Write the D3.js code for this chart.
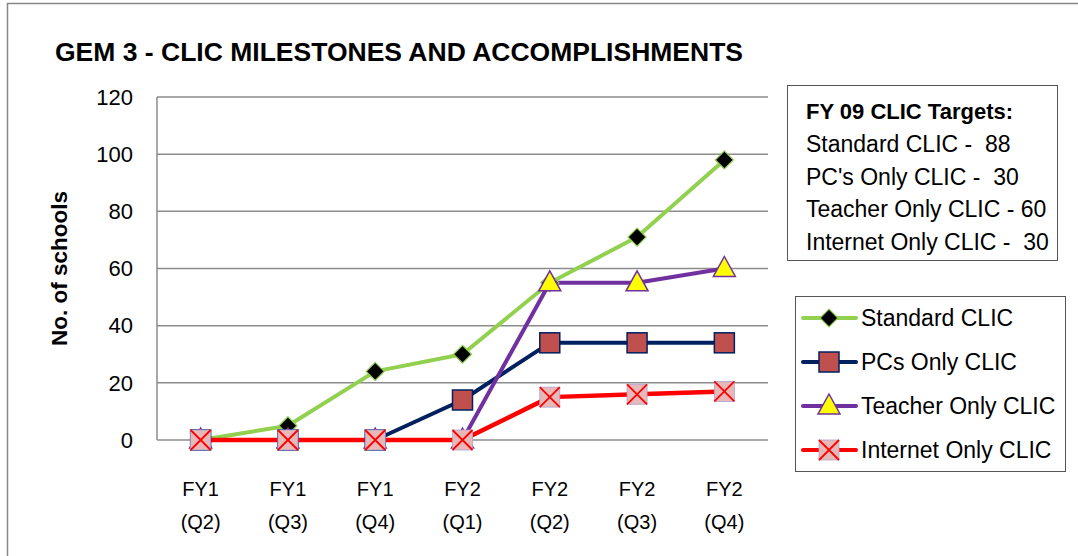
<!DOCTYPE html>
<html>
<head>
<meta charset="utf-8">
<script src="https://cdn.jsdelivr.net/npm/d3@7"></script>
<style>
  body { margin: 0; background: #fff; }
  text { font-family: "Liberation Sans", "DejaVu Sans", sans-serif; fill: #000; white-space: pre; }
</style>
</head>
<body>
<div id="chart"></div>
<script>
// Data
const quarters = ["FY1|(Q2)", "FY1|(Q3)", "FY1|(Q4)", "FY2|(Q1)", "FY2|(Q2)", "FY2|(Q3)", "FY2|(Q4)"];
const standardClic = [0, 5, 24, 30, 55, 71, 98];
const pcsOnlyClic = [0, 0, 0, 14, 34, 34, 34];
const teacherOnlyClic = [0, 0, 0, 0, 55, 55, 60];
const internetOnlyClic = [0, 0, 0, 0, 15, 16, 17];
const yTicks = [0, 20, 40, 60, 80, 100, 120];
const targetLines = ["Standard CLIC -  88", "PC's Only CLIC -  30", "Teacher Only CLIC - 60", "Internet Only CLIC -  30"];

const series = [
  {name: "Standard CLIC", values: standardClic, stroke: "#92d050", marker: "diamond"},
  {name: "PCs Only CLIC", values: pcsOnlyClic, stroke: "#002060", marker: "square"},
  {name: "Teacher Only CLIC", values: teacherOnlyClic, stroke: "#7030a0", marker: "triangle"},
  {name: "Internet Only CLIC", values: internetOnlyClic, stroke: "#ff0000", marker: "cross"}
];

const W = 1078, H = 556;
const plot = {left: 157, top: 97, right: 768, bottom: 440};

const svg = d3.select("#chart").append("svg")
  .attr("width", W).attr("height", H);

// Outer frame
svg.append("rect")
  .attr("x", 7.5).attr("y", 3.5)
  .attr("width", W).attr("height", H)
  .attr("fill", "none").attr("stroke", "#888").attr("stroke-width", 1.5);

// Scales
const x = d3.scaleBand().domain(quarters).range([plot.left, plot.right]);
const y = d3.scaleLinear().domain([0, 120]).range([plot.bottom, plot.top]);
const cx = d => x(d) + x.bandwidth() / 2;

// Gridlines
svg.append("g").selectAll("line").data(yTicks).join("line")
  .attr("x1", plot.left).attr("x2", plot.right)
  .attr("y1", d => y(d)).attr("y2", d => y(d))
  .attr("stroke", "#8c8c8c").attr("stroke-width", 1.5);

// y axis line
svg.append("line")
  .attr("x1", plot.left).attr("x2", plot.left)
  .attr("y1", plot.top).attr("y2", plot.bottom)
  .attr("stroke", "#8c8c8c").attr("stroke-width", 1.5);

// y tick labels
svg.append("g").selectAll("text").data(yTicks).join("text")
  .attr("x", plot.left - 24).attr("y", d => y(d))
  .attr("dy", "0.35em")
  .attr("text-anchor", "end")
  .style("font-size", "22px")
  .text(d => d);

// x tick labels (two lines)
const xl = svg.append("g").selectAll("text").data(quarters).join("text")
  .attr("text-anchor", "middle")
  .style("font-size", "20px");
xl.append("tspan").attr("x", d => cx(d)).attr("y", 496).text(d => d.split("|")[0]);
xl.append("tspan").attr("x", d => cx(d)).attr("y", 529).text(d => d.split("|")[1]);

// Title
svg.append("text")
  .attr("x", 55).attr("y", 61)
  .style("font-size", "26.5px").style("font-weight", "bold")
  .text("GEM 3 - CLIC MILESTONES AND ACCOMPLISHMENTS");

// y label
svg.append("text")
  .attr("transform", `translate(67,${(plot.top + plot.bottom) / 2}) rotate(-90)`)
  .attr("text-anchor", "middle")
  .style("font-size", "22.5px").style("font-weight", "bold")
  .text("No. of schools");

// Marker drawing
function drawMarker(g, type) {
  if (type === "diamond") {
    g.append("path").attr("d", "M0,-9L9,0L0,9L-9,0Z")
      .attr("fill", "#000").attr("stroke", "#92d050").attr("stroke-width", 1.2);
  } else if (type === "square") {
    g.append("rect").attr("x", -10).attr("y", -10).attr("width", 20).attr("height", 20)
      .attr("fill", "#c0504d").attr("stroke", "#002060").attr("stroke-width", 1.5);
  } else if (type === "triangle") {
    g.append("path").attr("d", "M0,-12L11,8L-11,8Z")
      .attr("fill", "#ffff00").attr("stroke", "#7030a0").attr("stroke-width", 1.5);
  } else {
    g.append("rect").attr("x", -10).attr("y", -10).attr("width", 20).attr("height", 20)
      .attr("fill", "#e6b9b8").attr("stroke", "#b0a0d0").attr("stroke-width", 0.8);
    g.append("path").attr("d", "M-10,-10L10,10M10,-10L-10,10")
      .attr("stroke", "#ff0000").attr("stroke-width", 1.8);
  }
}

const line = d3.line().x((d, i) => cx(quarters[i])).y(d => y(d));

// Lines
series.forEach(s => {
  svg.append("path").datum(s.values)
    .attr("fill", "none").attr("stroke", s.stroke)
    .attr("stroke-width", s.stroke === "#ff0000" ? 4.5 : 4)
    .attr("stroke-linejoin", "round")
    .attr("d", line);
});

// Markers
series.forEach(s => {
  s.values.forEach((v, i) => {
    const g = svg.append("g").attr("transform", `translate(${cx(quarters[i])},${y(v)})`);
    drawMarker(g, s.marker);
  });
});

// Targets box
const tb = svg.append("g");
tb.append("rect").attr("x", 787.5).attr("y", 85.5).attr("width", 270).attr("height", 175)
  .attr("fill", "#fff").attr("stroke", "#555").attr("stroke-width", 1);
tb.append("text").attr("x", 806).attr("y", 119)
  .style("font-size", "22px").style("font-weight", "bold")
  .text("FY 09 CLIC Targets:");
tb.selectAll("text.t").data(targetLines).join("text").attr("class", "t")
  .attr("x", 806).attr("y", (d, i) => 152 + i * 32.5)
  .style("font-size", "23px")
  .text(d => d);

// Legend
const lg = svg.append("g");
lg.append("rect").attr("x", 795.5).attr("y", 296.5).attr("width", 270).attr("height", 175)
  .attr("fill", "#fff").attr("stroke", "#555").attr("stroke-width", 1);
series.forEach((s, i) => {
  const ly = 318 + i * 44;
  lg.append("line").attr("x1", 803).attr("x2", 856).attr("y1", ly).attr("y2", ly)
    .attr("stroke", s.stroke).attr("stroke-width", 4).attr("stroke-linecap", "round");
  const g = lg.append("g").attr("transform", `translate(829,${ly})`);
  drawMarker(g, s.marker);
  lg.append("text").attr("x", 861).attr("y", ly).attr("dy", "0.35em")
    .style("font-size", "23px").text(s.name);
});
</script>
</body>
</html>
